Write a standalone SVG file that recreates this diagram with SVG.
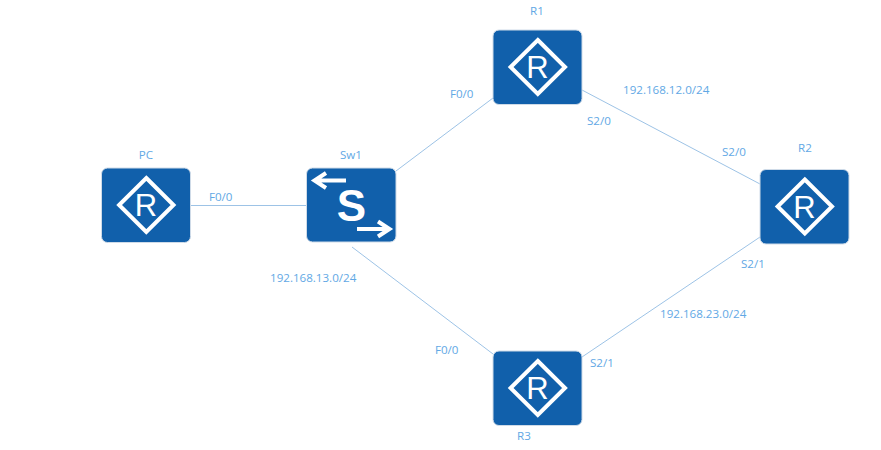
<svg xmlns="http://www.w3.org/2000/svg" width="881" height="450" viewBox="0 0 881 450">
<style>
.bg{fill:#1160ab;stroke:#cfdbe8;stroke-width:1}
.dia{fill:none;stroke:#fff;stroke-width:4}
text{font-family:"Open Sans","Noto Sans","Liberation Sans",sans-serif;font-size:11.600px;fill:#62a8e5}
.c{text-anchor:middle}
.big{fill:#fff;text-anchor:middle;font-family:"Liberation Sans",Arial,sans-serif;font-size:31px}
.s{fill:#fff;text-anchor:middle;font-family:"Liberation Sans",Arial,sans-serif;font-size:44px;font-weight:bold}
.link{stroke:#9dc3e6;stroke-width:1;fill:none}
.arr{fill:none;stroke:#fff;stroke-width:4}
</style>
<defs>
<g id="router">
<rect class="bg" x="0" y="0" width="89" height="74.500" rx="6"/>
<path class="dia" d="M44.800 10 L72 37 L44.800 64 L17.600 37 Z"/>
<text class="big" x="44.500" y="48">R</text>
</g>
</defs>
<rect width="881" height="450" fill="#fff"/>
<g id="connectors">
<line class="link" x1="191" y1="205.500" x2="306" y2="205.500"/>
<line class="link" x1="396" y1="171" x2="493" y2="98"/>
<line class="link" x1="582" y1="90" x2="760" y2="184"/>
<line class="link" x1="352" y1="247" x2="493" y2="354"/>
<line class="link" x1="582" y1="357" x2="760" y2="237"/>
</g>
<g id="PC"><use href="#router" x="101.500" y="168"/><text class="c" x="146" y="159">PC</text></g>
<g id="Sw1">
<rect class="bg" x="306.500" y="168" width="89.500" height="74" rx="6"/>
<path class="arr" d="M346 180.500H315M326 173L314.500 180.500L326 188"/>
<path class="arr" d="M357 229H389M378 221.500L389.500 229L378 236.500"/>
<text class="s" x="351.500" y="221">S</text>
<text class="c" x="351" y="159">Sw1</text>
</g>
<g id="R1"><use href="#router" x="493" y="30"/><text class="c" x="537" y="15">R1</text></g>
<g id="R2"><use href="#router" x="760" y="169.500"/><text class="c" x="805" y="151.500">R2</text></g>
<g id="R3"><use href="#router" x="493" y="351"/><text class="c" x="524" y="440">R3</text></g>
<g id="labels">
<text x="209" y="201">F0/0</text>
<text x="450" y="98">F0/0</text>
<text x="623" y="94">192.168.12.0/24</text>
<text x="587" y="125">S2/0</text>
<text x="722" y="156">S2/0</text>
<text x="741" y="268">S2/1</text>
<text x="660" y="318">192.168.23.0/24</text>
<text x="590" y="367">S2/1</text>
<text x="435" y="354">F0/0</text>
<text x="270" y="282">192.168.13.0/24</text>
</g>
</svg>
